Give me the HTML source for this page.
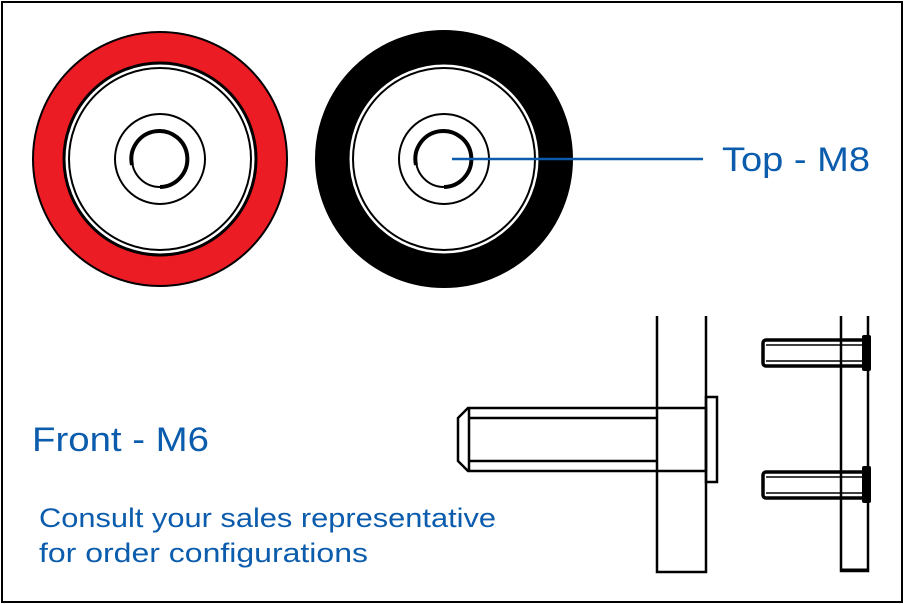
<!DOCTYPE html>
<html><head><style>body{margin:0;background:#fff}svg{display:block}text{font-family:"Liberation Sans",sans-serif;fill:#0b5cad}</style></head><body>
<svg width="904" height="604" viewBox="0 0 904 604" xmlns="http://www.w3.org/2000/svg">
<rect x="2" y="2" width="900" height="600" fill="#fff" stroke="#000" stroke-width="2"/>
<g stroke="#000" fill="none">
<circle cx="160" cy="159" r="127" fill="#ec1c24" stroke-width="2"/>
<circle cx="160" cy="159" r="96" fill="#fff" stroke-width="3"/>
<circle cx="160" cy="159" r="91" stroke-width="2"/>
<circle cx="160" cy="159" r="45" stroke-width="2"/>
<circle cx="160" cy="159" r="28" stroke-width="2"/>
<path d="M132 165 A28 28 0 1 1 160 187" stroke-width="4"/>
<circle cx="444" cy="159" r="128" fill="#000" stroke-width="2"/>
<circle cx="444" cy="159" r="96" fill="#fff" stroke-width="3"/>
<circle cx="444" cy="159" r="91" stroke-width="2"/>
<circle cx="444" cy="159" r="45" stroke-width="2"/>
<circle cx="444" cy="159" r="28" stroke-width="2"/>
<path d="M416 165 A28 28 0 1 1 444 187" stroke-width="4"/>
</g>
<line x1="452" y1="159" x2="703" y2="159" stroke="#0b5cad" stroke-width="2.5"/>
<g stroke="#000" fill="none" stroke-width="2.5">
<path d="M657 316 V572 H706 V316"/>
<path d="M468 408 H706 V471 H468 L458 461 V418 Z"/>
<path d="M469 408 V471 M469 418 H657 M469 461 H657"/>
<rect x="706" y="397" width="11" height="85"/>
<path d="M841 316 V571 H868 V316"/>
<line x1="841" y1="570" x2="868" y2="570" stroke-width="3"/>
<rect x="763" y="340" width="105" height="26" rx="3" stroke-width="3.5"/>
<line x1="766" y1="345" x2="864" y2="345" stroke-width="1.5"/>
<line x1="766" y1="361" x2="864" y2="361" stroke-width="1.5"/>
<rect x="763" y="472" width="105" height="26" rx="3" stroke-width="3.5"/>
<line x1="766" y1="477" x2="864" y2="477" stroke-width="1.5"/>
<line x1="766" y1="493" x2="864" y2="493" stroke-width="1.5"/>
</g>
<rect x="862" y="335" width="9" height="36" rx="2" fill="#000"/>
<rect x="862" y="466" width="9" height="37" rx="2" fill="#000"/>
<text x="722" y="171" font-size="34" textLength="148" lengthAdjust="spacingAndGlyphs">Top - M8</text>
<text x="32" y="451" font-size="34" textLength="177" lengthAdjust="spacingAndGlyphs">Front - M6</text>
<text x="39" y="527" font-size="27" textLength="457" lengthAdjust="spacingAndGlyphs">Consult your sales representative</text>
<text x="39" y="562" font-size="27" textLength="329" lengthAdjust="spacingAndGlyphs">for order configurations</text>
</svg>
</body></html>
